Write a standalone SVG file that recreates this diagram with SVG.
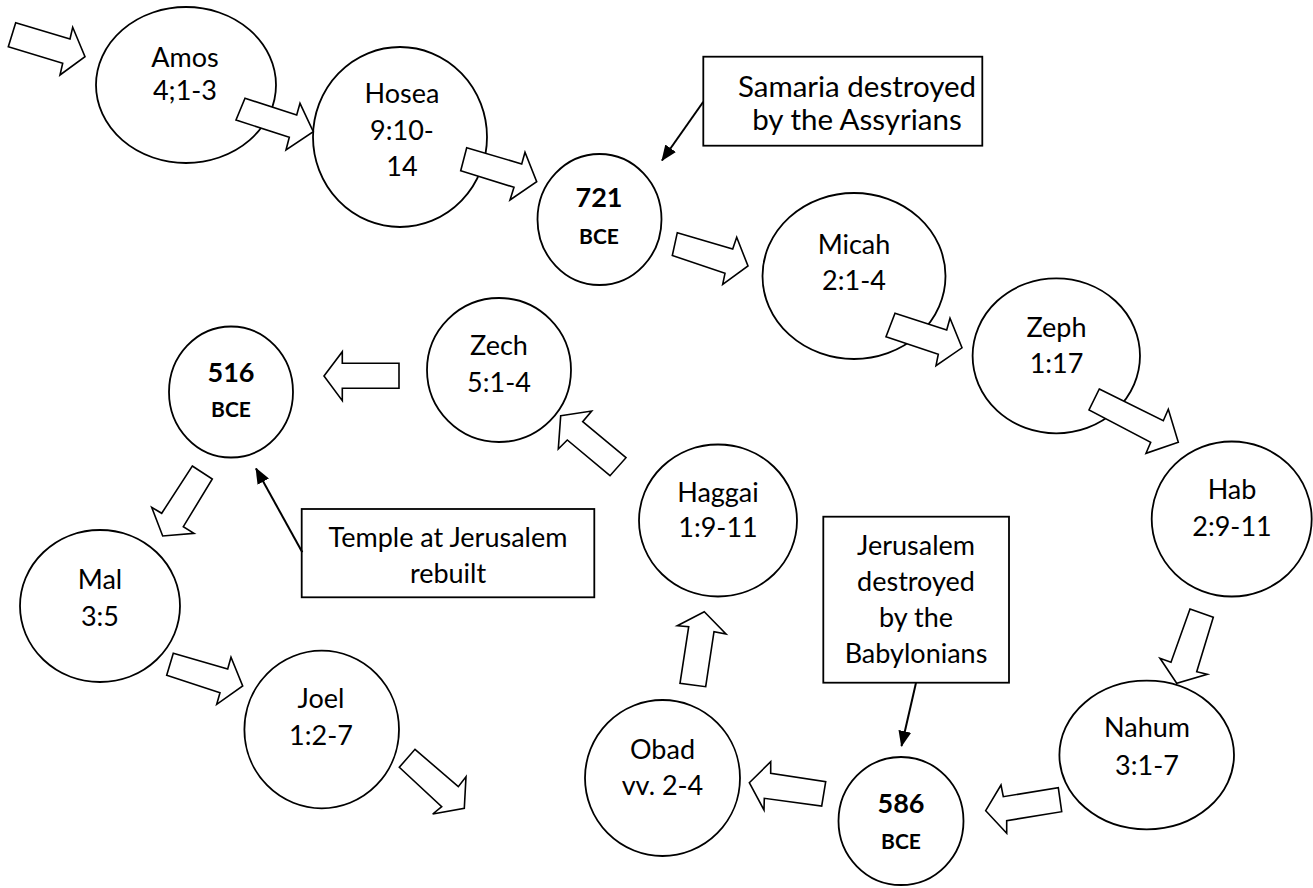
<svg xmlns="http://www.w3.org/2000/svg" width="1313" height="888" viewBox="0 0 1313 888">
<style>
  .bg { fill: #ffffff; }
  .node { fill: #ffffff; stroke: #000000; stroke-width: 1.8; }
  .box { fill: #ffffff; stroke: #000000; stroke-width: 1.8; }
  .t { font-family: Lato, "Liberation Sans", sans-serif; font-size: 27px; fill: #000000; text-anchor: middle; }
  .big { font-size: 29.5px; }
  .yr { font-family: Lato, "Liberation Sans", sans-serif; font-size: 27px; font-weight: bold; fill: #000000; text-anchor: middle; }
  .bce { font-family: Lato, "Liberation Sans", sans-serif; font-size: 21px; font-weight: bold; fill: #000000; text-anchor: middle; }
  .blk { fill: #ffffff; stroke: #000000; stroke-width: 1.6; stroke-linejoin: miter; }
  .ptr { fill: none; stroke: #000000; stroke-width: 2; marker-end: url(#head); }
</style>
<defs>
  <marker id="head" markerUnits="userSpaceOnUse" markerWidth="16" markerHeight="13" refX="15" refY="6.5" orient="auto">
    <path d="M0,0 L16,6.5 L0,13 z" fill="#000000"/>
  </marker>
</defs>
<rect class="bg" x="0" y="0" width="1313" height="888"/>

<g id="amos">
  <ellipse class="node" cx="186" cy="85" rx="90" ry="78"/>
  <text class="t" x="185" y="67">Amos</text>
  <text class="t" x="185" y="100">4;1-3</text>
</g>
<g id="hosea">
  <ellipse class="node" cx="400" cy="137" rx="87" ry="90"/>
  <text class="t" x="402" y="103">Hosea</text>
  <text class="t" x="402" y="140">9:10-</text>
  <text class="t" x="402" y="176">14</text>
</g>
<g id="bce721">
  <ellipse class="node" cx="599.5" cy="219.5" rx="62" ry="65.5"/>
  <text class="yr" x="599" y="207">721</text>
  <text class="bce" x="599" y="244">BCE</text>
</g>
<g id="micah">
  <ellipse class="node" cx="854" cy="276" rx="91.5" ry="83"/>
  <text class="t" x="854" y="254">Micah</text>
  <text class="t" x="854" y="290">2:1-4</text>
</g>
<g id="zeph">
  <ellipse class="node" cx="1056.3" cy="355.8" rx="83.7" ry="77.5"/>
  <text class="t" x="1056.5" y="337">Zeph</text>
  <text class="t" x="1056.5" y="373">1:17</text>
</g>
<g id="hab">
  <ellipse class="node" cx="1231.7" cy="519" rx="80" ry="77.5"/>
  <text class="t" x="1232" y="499">Hab</text>
  <text class="t" x="1232" y="536">2:9-11</text>
</g>
<g id="nahum">
  <ellipse class="node" cx="1146.7" cy="755" rx="87.3" ry="74.3"/>
  <text class="t" x="1147" y="737">Nahum</text>
  <text class="t" x="1147" y="775">3:1-7</text>
</g>
<g id="bce586">
  <ellipse class="node" cx="901" cy="821" rx="62.5" ry="64"/>
  <text class="yr" x="901" y="813">586</text>
  <text class="bce" x="901" y="849">BCE</text>
</g>
<g id="obad">
  <ellipse class="node" cx="662.5" cy="778" rx="77.5" ry="78"/>
  <text class="t" x="662.5" y="759">Obad</text>
  <text class="t" x="662.5" y="795">vv. 2-4</text>
</g>
<g id="haggai">
  <ellipse class="node" cx="718" cy="520.5" rx="79" ry="76"/>
  <text class="t" x="718" y="502">Haggai</text>
  <text class="t" x="718" y="537">1:9-11</text>
</g>
<g id="zech">
  <ellipse class="node" cx="499" cy="370" rx="72" ry="72"/>
  <text class="t" x="499" y="355">Zech</text>
  <text class="t" x="499" y="392">5:1-4</text>
</g>
<g id="bce516">
  <ellipse class="node" cx="231" cy="392" rx="62" ry="65.5"/>
  <text class="yr" x="231" y="382">516</text>
  <text class="bce" x="231" y="417">BCE</text>
</g>
<g id="mal">
  <ellipse class="node" cx="100" cy="606" rx="80" ry="76"/>
  <text class="t" x="100" y="589">Mal</text>
  <text class="t" x="100" y="626">3:5</text>
</g>
<g id="joel">
  <ellipse class="node" cx="321.7" cy="729.5" rx="77.3" ry="78.8"/>
  <text class="t" x="321" y="708">Joel</text>
  <text class="t" x="321" y="745">1:2-7</text>
</g>

<g id="samaria-note">
  <rect class="box" x="703.3" y="56.7" width="279" height="89"/>
  <text class="t big" x="857" y="97">Samaria destroyed</text>
  <text class="t big" x="857" y="130">by the Assyrians</text>
</g>
<g id="temple-note">
  <rect class="box" x="301.7" y="509" width="292.6" height="88.3"/>
  <text class="t" x="448" y="547">Temple at Jerusalem</text>
  <text class="t" x="448" y="583">rebuilt</text>
</g>
<g id="jerusalem-note">
  <rect class="box" x="823.3" y="516.7" width="185.7" height="166"/>
  <text class="t" x="916" y="555">Jerusalem</text>
  <text class="t" x="916" y="591">destroyed</text>
  <text class="t" x="916" y="627">by the</text>
  <text class="t" x="916" y="663">Babylonians</text>
</g>

<g id="connectors">
  <polygon class="blk" points="15.7,22.7 70,39 72.7,27.3 85,56.7 60,75 62.7,63.3 8.3,46.7"/>
  <polygon class="blk" points="245,98.3 296.7,115 300,103.3 313.3,131.7 286,150 289.3,137.3 236,120"/>
  <polygon class="blk" points="466.7,147.7 521.7,164 525,152.3 536.7,181.7 510,200 514,187.3 460.7,170.7"/>
  <polygon class="blk" points="677.3,232.7 732.7,249 736.7,237.3 748,266 722.7,284.3 725,273.3 672.3,255.5"/>
  <polygon class="blk" points="895,313.3 946.7,330 950,318.3 962,347.8 936,365.7 938.3,354.2 886,336.7"/>
  <polygon class="blk" points="1099.3,389 1163.3,420.7 1168.3,409.3 1178.3,442.3 1146,453.3 1150.7,442.3 1089,410"/>
  <polygon class="blk" points="1190,609 1213.3,617.3 1196.7,671.7 1207.3,674.3 1176.7,683.3 1160,658.3 1171,662.3"/>
  <polygon class="blk" points="985.7,810.7 1001,785 1003.3,796.7 1058.3,787.7 1061.7,811.7 1006.7,820.7 1006.7,833.3"/>
  <polygon class="blk" points="749.3,782.7 770.7,761.7 770.7,773.3 825.7,781.7 821.7,806 764.3,798.3 764,810"/>
  <polygon class="blk" points="704.3,611.7 726,634 714,631.7 705.7,686.7 680,683.3 688.7,626.7 677.3,625.7"/>
  <polygon class="blk" points="560.7,415.7 591.7,411 582.7,421.7 626,457.7 610,475.7 567.3,440 558.3,449"/>
  <polygon class="blk" points="324,376 342.3,351.7 342.3,363.3 399,363.3 399,388.3 342.3,388.3 342.3,400.7"/>
  <polygon class="blk" points="192.3,466 212.3,479 183.3,526.7 194,533.3 162.7,536 151.7,507.3 161.7,513.3"/>
  <polygon class="blk" points="173.3,653.3 227.7,669 231,657.3 242.7,686 216.7,704.3 220,692.7 166.7,675.3"/>
  <polygon class="blk" points="415,749.3 458.3,786.7 466,776.7 464.3,808.3 432.7,814 441.7,806.7 399.3,767.3"/>
  <line class="ptr" x1="703.3" y1="101.7" x2="662" y2="160.5"/>
  <line class="ptr" x1="302.3" y1="552.3" x2="256" y2="468.5"/>
  <line class="ptr" x1="916" y1="682.7" x2="901.5" y2="746"/>
</g>
</svg>
